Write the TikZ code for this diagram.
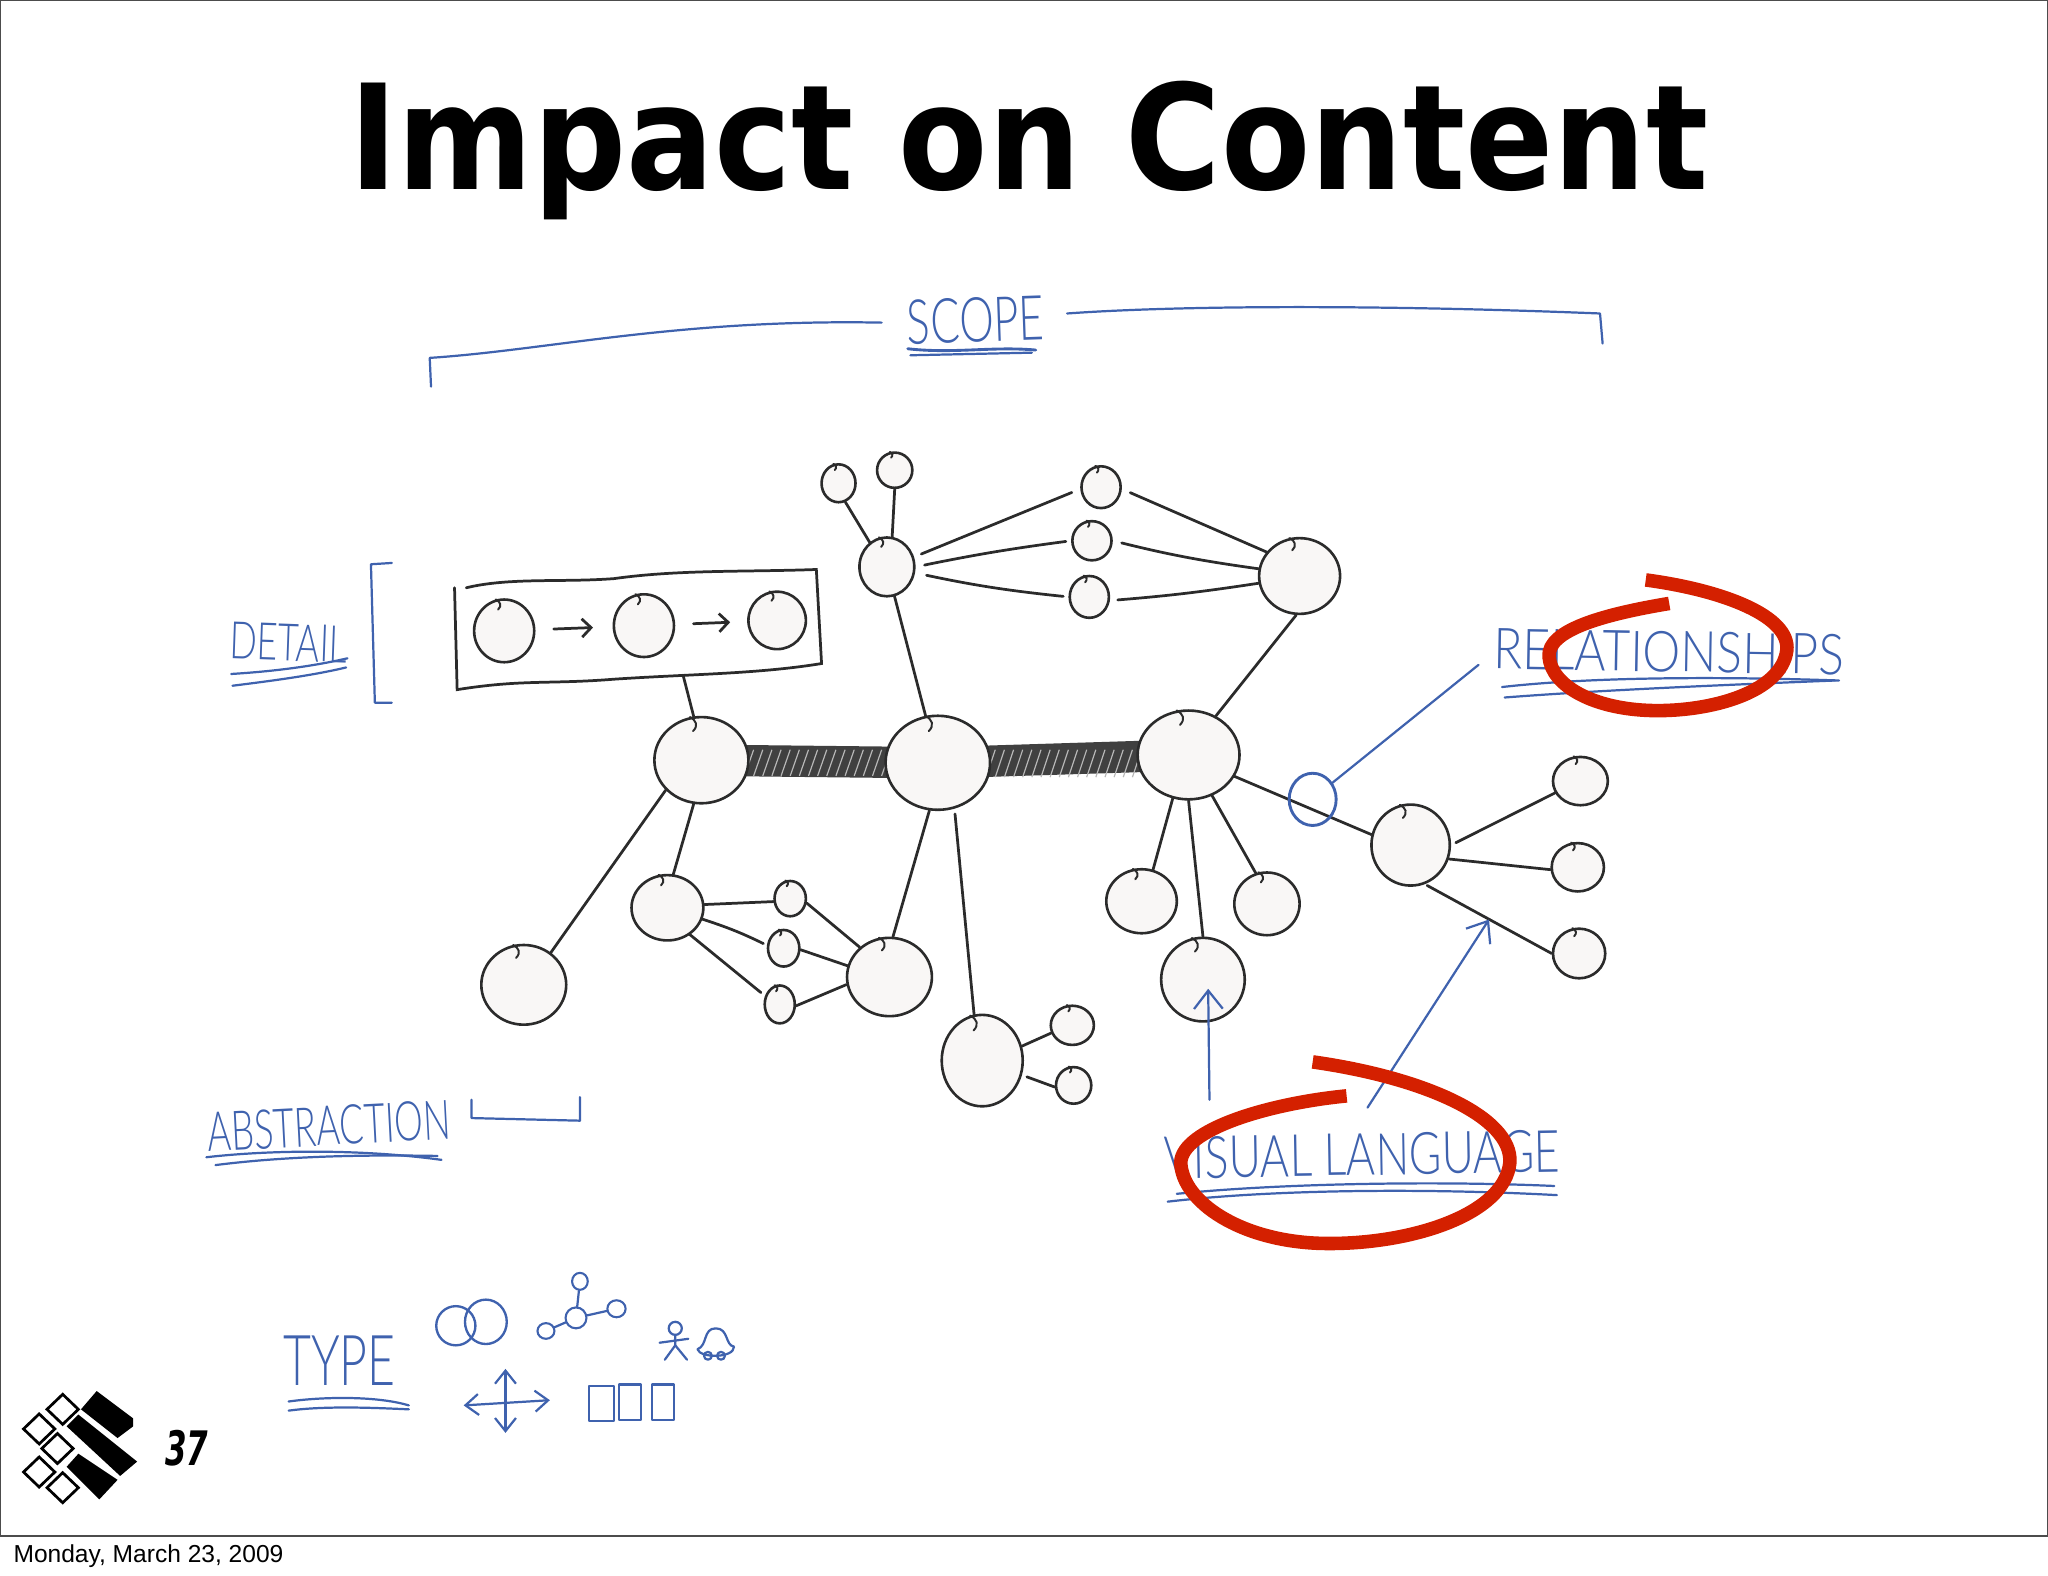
\documentclass[tikz,border=0pt]{standalone}
\usepackage{fontspec}
\usepackage{graphicx}
\usetikzlibrary{shapes.geometric,arrows.meta,backgrounds}
\setmainfont{Liberation Sans}
\newfontfamily\handfont{Lato Light}
\newfontfamily\numfont{DejaVu Sans}
\definecolor{penblue}{HTML}{3F62AE}
\definecolor{ink}{HTML}{2B2B2B}
\definecolor{redpen}{HTML}{D42000}
\definecolor{blobfill}{HTML}{F9F7F6}
\tikzset{
  blobnode/.style={ellipse,draw=ink,fill=blobfill,line width=1pt,inner sep=0pt},
  notchline/.style={draw=ink,line width=.75pt,line cap=round},
  link/.style={draw=ink,line width=1.05pt,line cap=round},
  pen/.style={draw=penblue,line width=.85pt,line cap=round,line join=round},
  penarrow/.style={pen,-{Straight Barb[length=7pt,width=11pt]}},
  redring/.style={draw=redpen,line width=5.2pt,line cap=butt},
  barline/.style={draw=ink!90,line width=12pt},
  hatchline/.style={draw=white!72!black,line width=.45pt},
  frameline/.style={draw=black!70,line width=.5pt},
  logobox/.style={draw=black,line width=1.05pt,fill=white},
}
\newcommand\blob[5]{%
  \node[blobnode,minimum width=#4*0.5pt,minimum height=#5*0.5pt] (#1) at (#2,#3) {};
  \pgfmathsetmacro{\nsz}{#5/8}
  \draw[notchline] (#1.105) .. controls +(0.6*\nsz,0.3*\nsz) and +(0.5*\nsz,-0.5*\nsz) .. +(0.3*\nsz,1.3*\nsz);
}
\newcommand\hw[7]{%
  \node[inner sep=0pt,rotate=#6,text=penblue] (#1) at (#2,#3)
    {\resizebox{\dimexpr #4pt/2\relax}{\dimexpr #5pt/2\relax}{\handfont #7}};
}
\begin{document}
\begin{tikzpicture}[x=0.5pt,y=-0.5pt]
\useasboundingbox (0,0) rectangle (1568,1206.6);
\draw[frameline] (0.5,1176) -- (0.5,0.5) -- (1567.5,0.5) -- (1567.5,1176) -- cycle;

% title and footer
\node[anchor=base west,inner sep=0pt] (title) at (267,145)
  {\resizebox{520pt}{41.5pt}{\numfont\bfseries Impact on Content}};
\node[anchor=base west,inner sep=0pt,font=\fontsize{9.4pt}{11pt}\selectfont] (date) at (10,1196) {Monday, March 23, 2009};

% detail box
\node[inner sep=0pt,minimum width=140pt,minimum height=40pt] (box) at (488,482) {};
\draw[link] (348,450) -- (350,528) .. controls (400,520) and (420,524) .. (470,520)
  .. controls (530,516) and (580,516) .. (629,508) -- (625,436)
  .. controls (570,438) and (520,436) .. (470,443) .. controls (430,446) and (390,442) .. (357,450);
\coordinate (boxfoot) at (523,517);

% nodes
\blob{b1}{386}{483}{46}{48}
\blob{b2}{493}{479}{46}{48}
\blob{b3}{595}{475}{44}{44}
\blob{N1}{642}{370}{26}{29}
\blob{N2}{685}{360}{27}{27}
\blob{H}{679}{434}{42}{45}
\blob{M1}{843}{373}{30}{32}
\blob{M2}{836}{414}{30}{30}
\blob{M3}{834}{457}{30}{32}
\blob{R}{995}{441}{62}{58}
\blob{A}{537}{582}{72}{66}
\blob{B}{718}{584}{80}{72}
\blob{C}{910}{578}{78}{68}
\blob{D}{401}{754}{65}{61}
\blob{E}{511}{695}{55}{50}
\blob{s1}{605}{688}{24}{27}
\blob{s2}{600}{726}{24}{28}
\blob{s3}{597}{769}{23}{29}
\blob{F}{681}{748}{65}{60}
\blob{G}{752}{812}{62}{70}
\blob{g1}{821}{785}{33}{30}
\blob{g2}{822}{831}{27}{28}
\blob{c1}{874}{690}{54}{49}
\blob{c2}{970}{692}{50}{48}
\blob{c3}{921}{750}{64}{64}
\blob{J}{1080}{647}{60}{62}
\blob{j1}{1210}{598}{42}{37}
\blob{j2}{1208}{664}{40}{37}
\blob{j3}{1209}{730}{40}{38}

% hatched bars
\begin{scope}[on background layer]
  \draw[barline] (A.center) -- (B.center);
  \draw[barline] (B.center) -- (C.center);
  \foreach \x in {570,577,...,680} \draw[hatchline] (\x,594) -- (\x+7,574);
  \foreach \x in {755,762,...,870} \draw[hatchline] (\x,595) -- (\x+7,574);
\end{scope}

% detail box connector and arrows
\draw[link] (boxfoot) -- (A.100);
\draw[link,shorten <=7pt,shorten >=7.5pt,-{Straight Barb[length=3.5pt,width=7pt]}] (b1) -- (b2);
\draw[link,shorten <=7pt,shorten >=6.5pt,-{Straight Barb[length=3.5pt,width=7pt]}] (b2) -- (b3);

% connectors
\draw[link] (N1.-70) -- (H.125);
\draw[link] (N2.south) -- (H.80);
\draw[link] (H) -- (B);
\draw[link,shorten <=3pt,shorten >=3.5pt] (H.20) -- (M1.185);
\draw[link,shorten <=3.5pt,shorten >=2pt] (H.0) to[bend left=2] (M2.180);
\draw[link,shorten <=4.5pt,shorten >=2pt] (H.-12) to[bend right=3] (M3.180);
\draw[link,shorten <=3.5pt] (M1.355) -- (R.144);
\draw[link,shorten <=3.5pt] (M2.0) to[bend right=3] (R.170);
\draw[link,shorten <=3pt] (M3.350) to[bend right=2] (R.190);
\draw[link] (R.265) -- (C.55);
\draw[link] (A.220) -- (D.50);
\draw[link] (A.260) -- (E.80);
\draw[link] (E.5) -- (s1.190);
\draw[link,shorten >=1.5pt] (E.-18) to[bend left=4] (s2.170);
\draw[link,shorten >=2pt] (E.-50) -- (s3.150);
\draw[link] (s1.-15) -- (F.135);
\draw[link] (s2.-5) -- (F.165);
\draw[link] (s3.-5) -- (F.190);
\draw[link] (B.-100) -- (F.85);
\draw[link,shorten <=2pt] (B.-70) -- (G.100);
\draw[link] (G.20) -- (g1.200);
\draw[link,shorten <=2pt] (G.-20) -- (g2.185);
\draw[link] (C.-110) -- (c1.70);
\draw[link] (C.-90) -- (c3.90);
\draw[link] (C.-60) -- (c2.110);
\draw[link] (C.-25) -- (J.165);
\draw[link,shorten <=2pt] (J.0) -- (j1.205);
\draw[link] (J.-20) -- (j2.185);
\draw[link,shorten <=1pt] (J.-70) -- (j3.180);

% blue handwriting
\hw{scope}{747}{245}{105}{34}{2}{SCOPE}
\hw{detail}{221}{492}{90}{28}{-2}{DETAIL}
\hw{rel}{1278}{499}{268}{31}{-1}{RELATIONSHIPS}
\hw{abs}{252}{862}{186}{30}{3}{ABSTRACTION}
\hw{vl}{1043}{884}{303}{32}{1}{VISUAL LANGUAGE}
\hw{type}{260}{1042}{86}{38}{0}{TYPE}

% scope bracket and underlines
\draw[pen] (330,296) -- (329,274) .. controls (420,268) and (520,244) .. (675,247);
\draw[pen] (817,240) .. controls (900,234) and (1050,233) .. (1225,240) -- (1227,263);
\draw[pen,line width=1.1pt] (695,267) .. controls (730,271) and (760,265) .. (793,268);
\draw[pen] (697,272) -- (790,270);
% detail
\draw[pen] (300,431) -- (284,432) -- (287,538) -- (300,538);
\draw[pen] (177,516) .. controls (210,514) and (240,510) .. (266,504);
\draw[pen] (178,525) .. controls (210,521) and (240,517) .. (265,511);
% relationships
\draw[pen] (1150,526) .. controls (1220,518) and (1320,518) .. (1408,521);
\draw[pen] (1152,534) .. controls (1230,528) and (1330,524) .. (1405,521);
% abstraction
\draw[pen] (158,886) .. controls (210,880) and (280,880) .. (338,888);
\draw[pen] (165,892) .. controls (220,885) and (280,884) .. (335,885);
\draw[pen] (361,842) -- (361,856) -- (444,858) -- (444,840);
% visual language
\draw[pen] (901,914) .. controls (980,906) and (1100,904) .. (1190,908);
\draw[pen] (894,920) .. controls (980,910) and (1100,910) .. (1192,915);
% type
\draw[pen] (221,1073) .. controls (250,1069) and (290,1069) .. (313,1076);
\draw[pen] (221,1080) .. controls (250,1076) and (290,1078) .. (313,1079);

% blue ring and pointers
\node[ellipse,draw=penblue,line width=1.1pt,inner sep=0pt,minimum width=18pt,minimum height=20pt] (ring) at (1005,612) {};
\coordinate (relfoot) at (1132,509);
\coordinate (vlfoot1) at (926,842);
\coordinate (vlfoot2) at (1047,848);
\coordinate (arrowtip1) at (925,757);
\coordinate (arrowtip2) at (1140,704);
\draw[pen] (ring.40) -- (relfoot);
\draw[penarrow] (vlfoot1) -- (arrowtip1);
\draw[penarrow] (vlfoot2) -- (arrowtip2);

% type icons
\node[ellipse,draw=penblue,line width=.9pt,inner sep=0pt,minimum width=15pt,minimum height=15pt] (ov1) at (349,1015) {};
\node[ellipse,draw=penblue,line width=.9pt,inner sep=0pt,minimum width=16pt,minimum height=17pt] (ov2) at (372,1012) {};
\node[ellipse,draw=penblue,line width=.8pt,inner sep=0pt,minimum width=6pt,minimum height=6.5pt] (t1) at (444,981) {};
\node[ellipse,draw=penblue,line width=.8pt,inner sep=0pt,minimum width=8pt,minimum height=8pt] (t2) at (441,1009) {};
\node[ellipse,draw=penblue,line width=.8pt,inner sep=0pt,minimum width=7pt,minimum height=6.5pt] (t3) at (472,1002) {};
\node[ellipse,draw=penblue,line width=.8pt,inner sep=0pt,minimum width=6.5pt,minimum height=6pt] (t4) at (418,1019) {};
\draw[pen] (t1) -- (t2);
\draw[pen] (t2) -- (t3);
\draw[pen] (t2) -- (t4);
% figure
\draw[pen] (517,1017) circle[radius=5];
\draw[pen] (517,1022) -- (517,1030) -- (509,1041);
\draw[pen] (517,1030) -- (526,1041);
\draw[pen] (505,1028) -- (527,1025);
% car
\draw[pen] (534,1033) .. controls (542,1030) and (538,1017) .. (548,1017) .. controls (558,1017) and (555,1030) .. (562,1031) .. controls (562,1040) and (536,1040) .. (534,1033);
\draw[pen] (542,1038) circle[radius=3];
\draw[pen] (552,1038) circle[radius=3];
% axes
\coordinate (axT) at (387,1048);
\coordinate (axB) at (387,1097);
\coordinate (axL) at (355,1076);
\coordinate (axR) at (421,1072);
\draw[pen,{Straight Barb[length=5pt,width=8pt]}-{Straight Barb[length=5pt,width=8pt]}] (axT) -- (axB);
\draw[pen,{Straight Barb[length=5pt,width=8pt]}-{Straight Barb[length=5pt,width=8pt]}] (axL) -- (axR);
% three boxes
\draw[pen] (451,1061) rectangle (470,1088);
\draw[pen] (474,1060) rectangle (491,1087);
\draw[pen] (499,1060) rectangle (516,1087);

% logo
\fill[black] (74,1065) -- (102,1086) -- (102,1092) -- (90,1101) -- (62,1079) -- cycle;
\fill[black] (60,1083) -- (105,1119) -- (92,1130) -- (51,1092) -- cycle;
\fill[black] (60,1113) -- (90,1133) -- (76,1148) -- (51,1123) -- cycle;
\foreach \cx/\cy in {48/1079,30/1094,44/1109,30/1127,48/1139}
  \draw[logobox] (\cx-12,\cy) -- (\cx,\cy-11.5) -- (\cx+12,\cy) -- (\cx,\cy+11.5) -- cycle;
\node[inner sep=0pt] (num) at (143,1109) {\resizebox{16.5pt}{13.5pt}{\numfont\bfseries\itshape 37}};

% red rings
\draw[redring] (1260,444) .. controls (1320,452) and (1371,472) .. (1368,498)
  .. controls (1364,530) and (1310,545) .. (1265,544)
  .. controls (1220,543) and (1188,525) .. (1186,503)
  .. controls (1184,482) and (1230,470) .. (1278,462);
\draw[redring] (1005,813) .. controls (1090,825) and (1158,855) .. (1156,890)
  .. controls (1152,930) and (1080,953) .. (1014,952)
  .. controls (950,951) and (905,920) .. (904,890)
  .. controls (905,865) and (970,845) .. (1031,839);
\end{tikzpicture}
\end{document}
